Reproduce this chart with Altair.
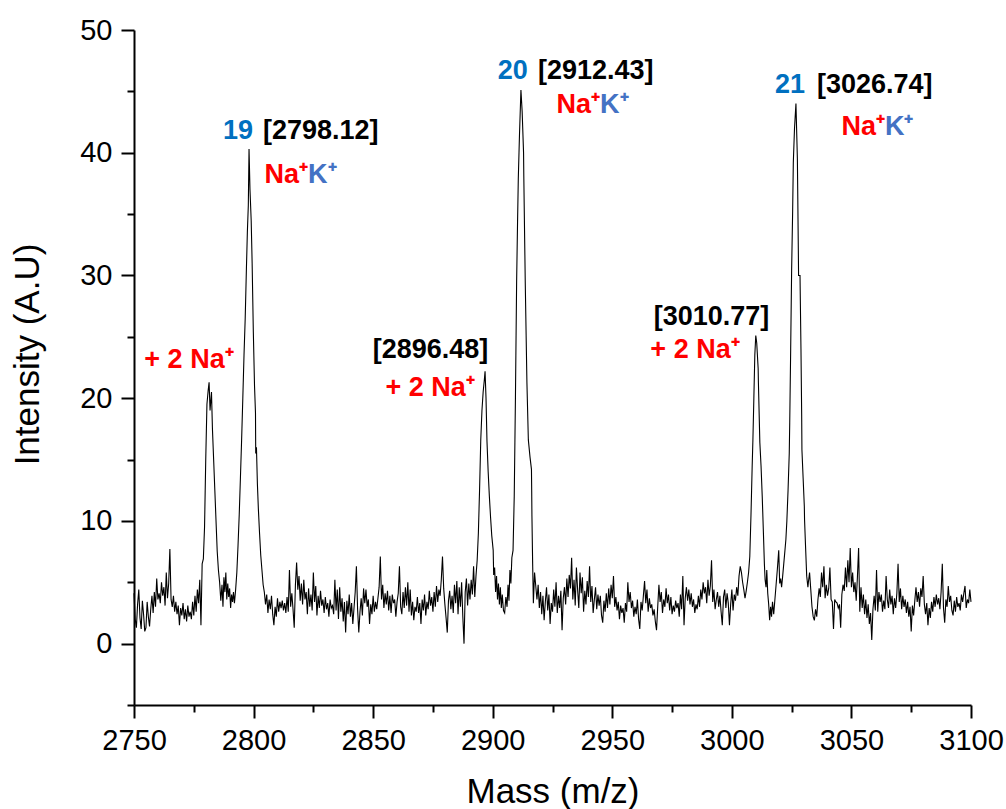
import altair as alt
import pandas as pd

STEP = 0.5

# ---- baseline (noise) segments, sampled every 0.5 m/z ----
base1_start = 2750.0
base1 = [4.1, 2.0, 1.3, 3.2, 4.4, 2.1, 1.2, 3.5, 2.4, 1.0, 1.3, 3.4, 2.2, 1.4, 2.8, 3.9,
         2.5, 4.2, 3.0, 5.3, 3.6, 4.1, 3.3, 5.0, 3.9, 4.6, 3.1, 5.8, 3.7, 4.9, 7.7, 3.6,
         3.0, 3.9, 2.6, 3.4, 2.4, 3.1, 1.5, 2.9, 2.3, 3.3, 2.0, 2.8, 1.8, 3.1, 2.2, 2.6,
         2.0, 3.4, 2.3, 3.9, 2.6, 4.4, 3.3, 5.2, 1.5, 6.5, 6.9]

base2_start = 2805.0
base2 = [3.2, 4.0, 2.5, 3.6, 2.8, 3.9, 2.4, 1.5, 3.0, 2.2, 3.7, 2.6, 3.4, 2.9, 3.5, 2.7,
         3.3, 2.5, 3.8, 2.6, 6.0, 3.0, 4.1, 2.8, 1.3, 4.8, 6.6, 4.4, 5.5, 3.5, 4.9, 3.2,
         5.2, 3.6, 4.2, 2.4, 4.5, 3.0, 4.0, 2.7, 5.8, 3.4, 4.7, 2.3, 3.9, 2.9, 4.3, 3.1,
         3.6, 2.5, 3.8, 2.8, 3.3, 2.2, 3.6, 2.9, 3.1, 2.4, 5.2, 2.7, 4.4, 2.0, 4.6, 2.6,
         3.7, 1.8, 3.4, 0.9, 3.5, 2.4, 4.0, 2.2, 3.3, 1.6, 2.9, 4.2, 6.3, 2.8, 0.9, 2.6,
         3.7, 2.3, 4.5, 3.3, 4.4, 3.0, 3.6, 1.6, 3.2, 2.4, 3.9, 2.6, 3.4, 2.8, 3.7, 4.6,
         7.1, 3.6, 4.8, 2.9, 4.1, 3.2, 4.3, 2.7, 3.9, 2.5, 4.0, 3.3, 3.6, 2.2, 3.4, 4.1,
         6.3, 3.0, 2.4, 4.2, 2.9, 4.6, 3.1, 5.0, 2.6, 4.4, 2.3, 3.4, 1.9, 3.0, 2.6, 3.8,
         2.5, 3.3, 1.6, 3.6, 2.7, 4.0, 2.3, 3.4, 2.8, 4.3, 3.1, 3.8, 2.6, 4.2, 3.0, 4.7,
         3.4, 4.4, 3.9, 5.2, 7.1, 4.5, 3.2, 2.1, 0.9, 3.5, 4.3, 2.8, 3.9, 2.5, 4.8, 3.3,
         5.1, 2.4, 4.6, 3.0, 5.0, 2.2, 0.0, 4.2, 5.3, 3.1, 4.9, 3.6, 5.2, 4.0, 6.3, 3.8,
         5.5, 6.8]

base3_start = 2918.5
base3 = [3.6, 4.8, 2.9, 4.2, 2.4, 3.9, 1.9, 3.4, 4.6, 2.7, 4.0, 1.6, 3.3, 2.6, 4.4, 3.0,
         5.0, 2.5, 3.9, 2.9, 4.3, 1.1, 3.7, 4.6, 3.2, 5.3, 3.8, 5.6, 4.5, 7.0, 3.6, 5.2,
         3.1, 6.2, 4.4, 2.9, 5.8, 4.1, 5.4, 2.6, 4.3, 3.2, 5.1, 3.8, 6.3, 3.4, 4.7, 2.5,
         3.6, 4.6, 2.8, 4.0, 3.1, 3.9, 2.3, 1.7, 3.5, 2.6, 4.1, 2.9, 4.5, 3.2, 4.8, 3.7,
         5.5, 3.0, 3.8, 2.7, 3.4, 2.0, 3.1, 2.5, 2.9, 1.7, 3.3, 2.6, 5.0, 3.4, 4.2, 2.9,
         3.5, 2.2, 3.0, 2.4, 3.6, 2.0, 1.2, 3.4, 2.7, 3.9, 5.1, 3.3, 4.4, 2.6, 3.7, 2.9,
         3.2, 2.3, 2.8, 1.8, 1.1, 3.0, 4.8, 3.4, 4.2, 2.5, 3.6, 3.0, 4.5, 3.3, 4.0, 2.7,
         3.8, 2.4, 3.1, 2.6, 3.5, 2.9, 3.3, 2.2, 4.0, 2.8, 5.5, 1.5, 3.7, 4.6, 3.5, 4.4,
         3.2, 4.1, 3.0, 3.6, 2.5, 3.2, 2.8, 3.9, 3.0, 4.4, 3.6, 5.0, 4.1, 4.6, 3.3, 5.2,
         3.9, 4.7, 6.8, 3.4, 4.4, 2.8, 3.6, 4.2, 3.0, 3.9, 2.6, 1.5, 3.8, 4.4, 2.9, 4.1,
         3.3, 1.5, 3.2, 4.4, 2.7, 4.0, 3.5, 4.6, 3.9, 5.5, 6.3, 5.8, 5.0, 4.4, 3.7, 4.3]

base4_start = 3032.0
base4 = [5.0, 5.8, 4.4, 3.0, 2.2, 1.9, 2.8, 2.2, 3.6, 4.5, 3.8, 5.8, 4.6, 6.3, 3.7, 4.8,
         3.9, 4.5, 6.2, 3.6, 3.4, 1.2, 3.6, 3.4, 3.3, 2.9, 3.2, 1.3, 4.0, 4.8, 4.3, 6.2,
         4.6, 6.8, 5.0, 7.8, 4.6, 5.8, 4.2, 5.0, 3.5, 5.4, 7.8, 2.6, 4.6, 2.9, 4.0, 2.4,
         3.6, 2.1, 3.2, 1.6, 2.5, 0.3, 2.8, 3.9, 2.7, 6.0, 2.6, 4.2, 3.4, 4.0, 2.6, 3.5,
         2.8, 5.5, 3.6, 2.9, 4.4, 3.2, 3.9, 2.4, 3.7, 2.9, 4.1, 6.5, 3.4, 4.5, 2.8, 3.9,
         3.0, 3.6, 2.5, 3.4, 2.2, 3.0, 1.0, 3.1, 2.3, 3.5, 4.6, 3.4, 4.2, 3.0, 4.5, 3.8,
         5.5, 3.2, 2.4, 3.3, 1.5, 2.9, 2.1, 3.4, 2.6, 3.8, 3.0, 4.0, 3.2, 3.7, 2.8, 4.2,
         6.5, 2.9, 1.7, 3.6, 3.0, 4.7, 3.4, 3.9, 2.7, 2.3, 3.5, 2.6, 3.8, 3.0, 3.3, 2.7,
         4.0, 3.4, 4.1, 4.7, 2.9, 3.6, 3.3, 4.4, 3.4]

# ---- peak regions (m/z, intensity) ----
peak_ab_mz = [2779.5, 2780.0, 2780.5, 2781.0, 2781.4, 2781.8, 2782.4, 2782.8, 2783.3, 2783.8,
              2784.3, 2784.8, 2785.3, 2785.8, 2786.3, 2786.8, 2787.2, 2787.6, 2788.0, 2788.4,
              2788.8, 2789.2, 2789.6, 2790.0, 2790.4, 2790.8, 2791.2, 2791.6, 2792.0, 2792.5,
              2793.0, 2793.5, 2794.0, 2794.5, 2795.0, 2795.5, 2796.0, 2796.5, 2797.0, 2797.4,
              2797.8, 2798.1, 2798.5, 2799.0, 2799.4, 2799.9, 2800.4, 2800.8, 2800.9, 2801.2,
              2801.6, 2802.0, 2802.5, 2803.0, 2803.5, 2804.0, 2804.5]
peak_ab_int = [9.5, 15.0, 19.5, 20.6, 21.3, 19.0, 20.5, 17.5, 15.0, 12.5,
               10.0, 7.5, 6.0, 5.0, 3.5, 4.8, 3.0, 5.4, 4.2, 5.8,
               3.6, 4.9, 3.8, 4.5, 2.9, 4.0, 3.4, 4.2, 3.3, 4.4,
               5.8, 8.0, 10.5, 13.5, 16.6, 20.0, 23.5, 26.5, 30.5, 33.5,
               35.7, 40.3, 37.0, 34.5, 31.0, 25.4, 21.0, 18.8, 15.5, 16.0,
               13.0, 11.0, 9.0, 7.2, 6.0, 4.8, 4.2]

peak_cd_mz = [2894.0, 2894.5, 2895.0, 2895.5, 2896.0, 2896.5, 2896.8, 2897.2, 2897.6, 2898.1,
              2898.6, 2899.1, 2899.6, 2900.2, 2900.4, 2900.8, 2901.2, 2901.6, 2902.0, 2902.4,
              2902.8, 2903.2, 2903.6, 2904.0, 2904.5, 2905.0, 2905.5, 2906.0, 2906.4, 2906.8,
              2907.2, 2907.6, 2908.0, 2908.5, 2909.0, 2909.5, 2910.0, 2910.4, 2910.7, 2911.2,
              2911.8, 2912.3, 2912.9, 2913.0, 2913.6, 2914.3, 2914.9, 2915.6, 2916.2, 2916.3,
              2916.4, 2916.7, 2917.0, 2917.5, 2918.0]
peak_cd_int = [9.0, 12.5, 16.6, 19.0, 20.5, 21.5, 22.2, 20.0, 16.5, 14.0,
               12.0, 10.3, 8.8, 7.6, 5.6, 6.2, 4.2, 5.5, 3.6, 4.9,
               3.2, 4.6, 2.9, 4.0, 2.7, 2.5, 3.8, 3.0, 4.8, 3.5,
               6.0, 4.9, 7.0, 7.6, 12.0, 20.0, 29.5, 34.5, 37.9, 41.5,
               45.1, 43.4, 40.0, 38.1, 29.5, 21.3, 16.6, 15.2, 14.2, 12.5,
               10.4, 6.5, 3.3, 5.8, 4.7]

peak_ef_mz = [3006.5, 3007.0, 3007.5, 3008.0, 3008.5, 3008.8, 3009.2, 3009.6, 3010.0, 3010.4,
              3011.0, 3011.1, 3011.7, 3012.2, 3012.7, 3013.2, 3013.6, 3013.9, 3014.3, 3014.6,
              3015.0, 3015.4, 3015.8, 3016.2, 3016.6, 3017.0, 3017.5, 3018.0, 3018.5, 3019.0,
              3019.6, 3020.0, 3020.4, 3020.8, 3021.2, 3021.7, 3022.2, 3022.6, 3023.0, 3023.5,
              3024.0, 3024.2, 3024.6, 3025.0, 3025.4, 3025.7, 3026.2, 3026.8, 3027.4, 3027.8,
              3027.9, 3028.5, 3028.9, 3029.2, 3029.3, 3029.8, 3030.3, 3030.4, 3030.8, 3031.3,
              3031.8]
peak_ef_int = [5.0, 5.8, 7.1, 10.5, 14.5, 16.6, 20.0, 23.5, 25.1, 24.5,
               22.4, 21.3, 16.4, 14.5, 12.0, 9.0, 6.5, 5.2, 4.6, 6.0,
               4.1, 3.2, 1.9, 3.0, 2.2, 3.4, 2.4, 3.6, 4.8, 6.0,
               7.6, 4.9, 5.3, 4.6, 5.4, 6.5, 7.6, 8.5, 10.0, 12.5,
               15.5, 18.0, 24.0, 30.5, 35.0, 39.2, 42.0, 44.0, 39.5, 32.0,
               30.0, 30.0, 24.0, 18.5, 15.8, 13.5, 11.2, 10.1, 8.0, 5.5,
               4.6]

# ---- annotations ----
ann_text = ["19", "[2798.12]", "Na\u207a", "K\u207a", "+ 2 Na\u207a",
            "[2896.48]", "+ 2 Na\u207a", "20", "[2912.43]", "Na\u207a", "K\u207a",
            "[3010.77]", "+ 2 Na\u207a", "21", "[3026.74]", "Na\u207a", "K\u207a"]
ann_x = [2799.8, 2803.9, 2822.8, 2822.8, 2773.0,
         2874.0, 2873.8, 2914.7, 2918.9, 2944.9, 2944.9,
         2991.5, 2984.6, 3030.6, 3035.6, 3064.0, 3064.0]
ann_y = [41.8, 41.8, 38.2, 38.2, 23.1,
         23.9, 20.8, 46.7, 46.7, 43.9, 43.9,
         26.6, 23.9, 45.5, 45.5, 42.1, 42.1]
ann_color = ["#0070C0", "#000000", "#FF0000", "#4472C4", "#FF0000",
             "#000000", "#FF0000", "#0070C0", "#000000", "#FF0000", "#4472C4",
             "#000000", "#FF0000", "#0070C0", "#000000", "#FF0000", "#4472C4"]
ann_align = ["right", "left", "right", "left", "center",
             "center", "center", "right", "left", "right", "left",
             "center", "center", "right", "left", "right", "left"]


def seg(start, vals, stop):
    xs = [start + STEP * i for i in range(len(vals))]
    return [(x, v) for x, v in zip(xs, vals) if x < stop]


pts = []
pts += seg(base1_start, base1, peak_ab_mz[0])
pts += list(zip(peak_ab_mz, peak_ab_int))
pts += seg(base2_start, base2, peak_cd_mz[0])
pts += list(zip(peak_cd_mz, peak_cd_int))
pts += seg(base3_start, base3, peak_ef_mz[0])
pts += list(zip(peak_ef_mz, peak_ef_int))
pts += seg(base4_start, base4, 3100.01)
df = pd.DataFrame(pts, columns=["mz", "intensity"]).sort_values("mz")
df["order"] = range(len(df))

ann = pd.DataFrame({"text": ann_text, "mz": ann_x, "intensity": ann_y,
                    "color": ann_color, "align": ann_align})

FONT = "Liberation Sans"

xscale = alt.Scale(domain=[2750, 3100], nice=False, zero=False)
yscale = alt.Scale(domain=[-5, 50], nice=False, zero=False)

xaxis = alt.Axis(
    values=list(range(2750, 3101, 25)),
    format="d",
    labelExpr="datum.value % 50 === 0 ? datum.label : ''",
    tickSize={"condition": {"test": "datum.value % 50 === 0", "value": 13}, "value": 7},
    labelPadding=8,
    labelOverlap=False,
    labelFlush=False,
    title="Mass (m/z)",
    titleY=86,
    titleBaseline="middle",
)
yaxis = alt.Axis(
    values=list(range(-5, 51, 5)),
    format="d",
    labelExpr="datum.value % 10 === 0 ? datum.label : ''",
    tickSize={"condition": {"test": "datum.value % 10 === 0", "value": 13}, "value": 7},
    labelPadding=9,
    labelOverlap=False,
    labelFlush=False,
    title="Intensity (A.U)",
    titleX=-107,
    titleY=324,
    titleAngle=-90,
    titleAlign="center",
    titleBaseline="middle",
)

line = alt.Chart(df).mark_line(color="black", strokeWidth=1.1).encode(
    x=alt.X("mz:Q", scale=xscale, axis=xaxis),
    y=alt.Y("intensity:Q", scale=yscale, axis=yaxis),
    order="order:Q",
)

layers = [line]
for al in ["left", "center", "right"]:
    layers.append(
        alt.Chart(ann[ann["align"] == al]).mark_text(
            align=al, baseline="middle", fontSize=27, fontWeight="bold", font=FONT
        ).encode(
            x=alt.X("mz:Q", scale=xscale),
            y=alt.Y("intensity:Q", scale=yscale),
            text="text:N",
            color=alt.Color("color:N", scale=None),
        )
    )

chart = alt.layer(*layers).properties(
    width=837,
    height=675,
    autosize=alt.AutoSizeParams(type="none"),
    padding={"left": 134, "top": 30, "right": 35, "bottom": 104},
).configure(font=FONT).configure_view(
    stroke="transparent"
).configure_axis(
    grid=False,
    domainColor="black",
    domainWidth=2,
    tickColor="black",
    tickWidth=2,
    labelFont=FONT,
    labelFontSize=29,
    labelColor="black",
    titleFont=FONT,
    titleFontSize=35,
    titleFontWeight="normal",
    titleColor="black",
)

chart.save("out.html", embed_options={"renderer": "svg", "actions": False})
